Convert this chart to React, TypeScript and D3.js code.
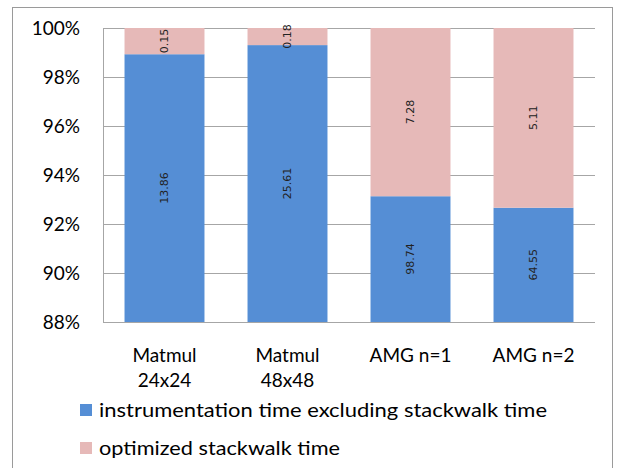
import React from "react";
import * as d3 from "d3";

const categories: string[][] = [
  ["Matmul", "24x24"],
  ["Matmul", "48x48"],
  ["AMG n=1"],
  ["AMG n=2"],
];
const instrValues = [13.86, 25.61, 98.74, 64.55];
const stackValues = [0.15, 0.18, 7.28, 5.11];
const yTicks = [0.88, 0.9, 0.92, 0.94, 0.96, 0.98, 1.0];
const seriesNames = [
  "instrumentation time excluding stackwalk time",
  "optimized stackwalk time",
];

const W = 623;
const H = 468;
const BLUE = "#558ED5";
const PINK = "#E6B9B8";
const FONT = "Lato, 'Open Sans', sans-serif";

export default function App() {
  const plotL = 103, plotR = 595, plotT = 28, plotB = 322;
  const x = d3
    .scaleBand<number>()
    .domain(d3.range(categories.length))
    .range([plotL, plotR])
    .paddingInner(0.35)
    .paddingOuter(0.175);
  const y = d3.scaleLinear().domain([0.88, 1]).range([plotB, plotT]);
  const fmtPct = d3.format(".0%");

  const bars = categories.map((_, i) => {
    const total = instrValues[i] + stackValues[i];
    const p = instrValues[i] / total;
    return { i, p };
  });

  return (
    <svg
      width={W}
      height={H}
      style={{ position: "absolute", left: 0, top: 0, background: "#fff" }}
      fontFamily={FONT}
    >
      <rect x={12.5} y={7.5} width={600} height={H} fill="#fff" stroke="#9a9a9a" strokeWidth={1} />
      {/* gridlines */}
      {yTicks.map((t) => (
        <line
          key={t}
          x1={plotL}
          x2={plotR}
          y1={Math.round(y(t)) + 0.5}
          y2={Math.round(y(t)) + 0.5}
          stroke="#a6a6a6"
          strokeWidth={1}
        />
      ))}
      <line x1={plotL + 0.5} x2={plotL + 0.5} y1={plotT} y2={plotB + 0.5} stroke="#a6a6a6" />
      {/* bars */}
      {bars.map(({ i, p }) => {
        const bx = x(i)!;
        const bw = x.bandwidth();
        const yTop = y(p);
        return (
          <g key={i}>
            <rect x={bx} y={yTop} width={bw} height={y(0.88) - yTop} fill={BLUE} />
            <rect x={bx} y={y(1)} width={bw} height={yTop - y(1)} fill={PINK} />
            <text
              transform={`translate(${bx + bw / 2},${(yTop + y(0.88)) / 2}) rotate(-90)`}
              textAnchor="middle"
              dy="0.35em"
              fontSize={11.5}
              fill="#222"
              fontFamily="'DejaVu Sans', sans-serif"
              style={{ fontSize: 11 }}
            >
              {instrValues[i].toFixed(2)}
            </text>
            <text
              transform={`translate(${bx + bw / 2},${(yTop + y(1)) / 2}) rotate(-90)`}
              textAnchor="middle"
              dy="0.35em"
              fill="#222"
              fontFamily="'DejaVu Sans', sans-serif"
              style={{ fontSize: 11 }}
            >
              {stackValues[i].toFixed(2)}
            </text>
          </g>
        );
      })}
      {/* y tick labels */}
      {yTicks.map((t) => (
        <text key={t} x={80} y={y(t)} dy="0.36em" textAnchor="end" fontSize={19} fill="#000">
          {fmtPct(t)}
        </text>
      ))}
      {/* category labels */}
      {categories.map((lines, i) => (
        <text key={i} textAnchor="middle" fontSize={19} fill="#000">
          {lines.map((l, j) => (
            <tspan key={j} x={x(i)! + x.bandwidth() / 2} y={362 + j * 25}>
              {l}
            </tspan>
          ))}
        </text>
      ))}
      {/* legend */}
      {seriesNames.map((name, k) => (
        <g key={name}>
          <rect x={80} y={404 + k * 38} width={12} height={12} fill={k === 0 ? BLUE : PINK} />
          <text
            x={99}
            y={417 + k * 38}
            fontSize={19}
            fill="#000"
            textLength={k === 0 ? 448 : 241}
            lengthAdjust="spacingAndGlyphs"
          >
            {name}
          </text>
        </g>
      ))}
    </svg>
  );
}
